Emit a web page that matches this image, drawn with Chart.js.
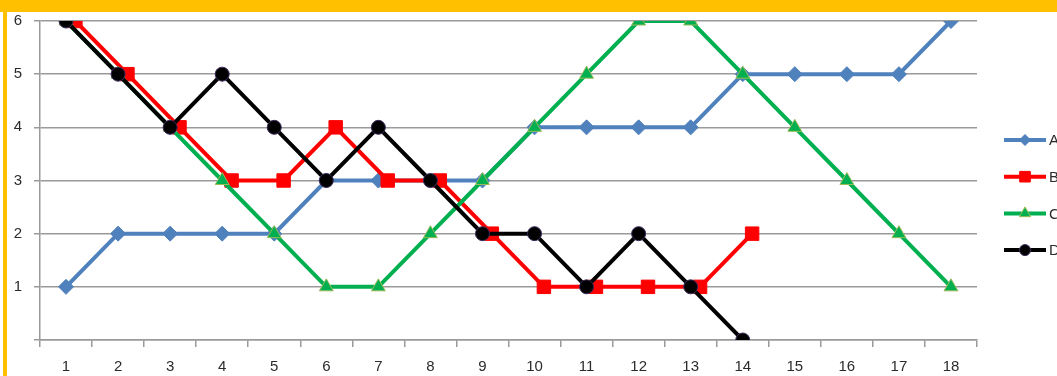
<!DOCTYPE html>
<html>
<head>
<meta charset="utf-8">
<script src="https://cdn.jsdelivr.net/npm/chart.js@4/dist/chart.umd.min.js"></script>
<style>
  html, body { margin: 0; padding: 0; background: #ffffff; }
  #wrap { position: relative; width: 1057px; height: 376px; }
  canvas { display: block; }
</style>
</head>
<body>
<div id="wrap"><canvas id="chart" width="1057" height="376"></canvas></div>
<script>
// Categories along the bottom axis
const categories = ['1','2','3','4','5','6','7','8','9','10','11','12','13','14','15','16','17','18'];

// Series values (one per category, shorter series stop early)
const seriesA = [1, 2, 2, 2, 2, 3, 3, 3, 3, 4, 4, 4, 4, 5, 5, 5, 5, 6];
const seriesB = [6, 5, 4, 3, 3, 4, 3, 3, 2, 1, 1, 1, 1, 2];
const seriesC = [6, 5, 4, 3, 2, 1, 1, 2, 3, 4, 5, 6, 6, 5, 4, 3, 2, 1];
const seriesD = [6, 5, 4, 5, 4, 3, 4, 3, 2, 2, 1, 2, 1, 0];

// Value-axis tick labels
const yTicks = [0, 1, 2, 3, 4, 5, 6];

const seriesNames = ['A', 'B', 'C', 'D'];

// Series B sits a little to the right of each category position
const xShift = { A: 0, B: 0.18, C: 0, D: 0 };

function toPoints(values, name) {
  return values.map((v, i) => ({ x: i + 1 + xShift[name], y: v }));
}

const styles = {
  A: { color: '#4f81bd', fill: '#4f81bd', border: '#4f81bd', point: 'rectRot', r: 7.5, lr: 5.5, order: 4 },
  B: { color: '#ff0000', fill: '#ff0000', border: '#ff0000', point: 'rect', r: 9.5, lr: 7.5, order: 3 },
  C: { color: '#00b050', fill: '#00b050', border: '#9bbb59', point: 'triangle', r: 8, lr: 6.5, order: 2 },
  D: { color: '#000000', fill: '#000000', border: '#3d2a5c', point: 'circle', r: 7, lr: 5.5, order: 1 }
};

const values = { A: seriesA, B: seriesB, C: seriesC, D: seriesD };

const datasets = seriesNames.map(name => {
  const s = styles[name];
  return {
    label: name,
    data: toPoints(values[name], name),
    xAxisID: 'xv',
    borderColor: s.color,
    backgroundColor: s.fill,
    borderWidth: 4,
    pointStyle: s.point,
    pointRadius: s.r,
    pointBackgroundColor: s.fill,
    pointBorderColor: s.border,
    pointBorderWidth: 1,
    legendRadius: s.lr,
    tension: 0,
    order: s.order
  };
});

const TEXT = '#2b2b2b';
const GRID = '#9a9a9a';
const FONT = "'Liberation Sans', Arial, sans-serif";

// Yellow frame along the top and left edges
const framePlugin = {
  id: 'frame',
  beforeDraw(chart) {
    const ctx = chart.ctx;
    ctx.save();
    ctx.fillStyle = '#ffffff';
    ctx.fillRect(0, 0, chart.width, chart.height);
    ctx.fillStyle = '#ffc000';
    ctx.fillRect(0, 0, chart.width, 12);
    ctx.fillRect(3, 0, 4, chart.height);
    ctx.restore();
  }
};

// Legend on the right: line segment with marker, then the series name
const sideLegend = {
  id: 'sideLegend',
  afterDraw(chart) {
    const ctx = chart.ctx;
    const x0 = chart.chartArea.right + 27;
    const x1 = x0 + 42;
    const top = 140;
    const step = 36.7;
    ctx.save();
    chart.data.datasets.forEach((ds, i) => {
      const y = top + i * step;
      ctx.strokeStyle = ds.borderColor;
      ctx.lineWidth = 4;
      ctx.beginPath();
      ctx.moveTo(x0, y);
      ctx.lineTo(x1, y);
      ctx.stroke();
      ctx.fillStyle = ds.pointBackgroundColor;
      ctx.strokeStyle = ds.pointBorderColor;
      ctx.lineWidth = 1;
      Chart.helpers.drawPoint(ctx, { pointStyle: ds.pointStyle, radius: ds.legendRadius, borderWidth: 1, rotation: 0 }, (x0 + x1) / 2, y);
      ctx.fillStyle = TEXT;
      ctx.font = '15px ' + FONT;
      ctx.textBaseline = 'middle';
      ctx.textAlign = 'left';
      ctx.fillText(ds.label, x1 + 3, y + 1);
    });
    ctx.restore();
  }
};

new Chart(document.getElementById('chart'), {
  type: 'line',
  data: { labels: categories, datasets: datasets },
  plugins: [framePlugin, sideLegend],
  options: {
    responsive: false,
    animation: false,
    events: [],
    layout: { padding: { top: 20, left: 0, right: 80, bottom: 0 } },
    plugins: { legend: { display: false }, tooltip: { enabled: false } },
    scales: {
      x: {
        type: 'category',
        labels: categories,
        offset: true,
        afterFit(scale) { scale.height = 36; },
        grid: { display: true, offset: true, drawOnChartArea: false, drawTicks: true, tickLength: 7, color: GRID, lineWidth: 1.5 },
        border: { display: true, color: GRID, width: 1.5 },
        ticks: { color: TEXT, font: { family: FONT, size: 15 }, padding: 11, maxRotation: 0, autoSkip: false }
      },
      xv: {
        type: 'linear',
        display: false,
        min: 0.5,
        max: categories.length + 0.5
      },
      y: {
        type: 'linear',
        min: yTicks[0],
        max: yTicks[yTicks.length - 1],
        afterFit(scale) { scale.width = 40; },
        afterBuildTicks(scale) { scale.ticks = yTicks.map(v => ({ value: v })); },
        grid: { color: GRID, lineWidth: 1.5, tickLength: 6 },
        border: { display: true, color: GRID, width: 1.5 },
        ticks: {
          color: TEXT,
          font: { family: FONT, size: 15 },
          padding: 12,
          callback: v => (v === 0 ? '' : String(v))
        }
      }
    }
  }
});
</script>
</body>
</html>
